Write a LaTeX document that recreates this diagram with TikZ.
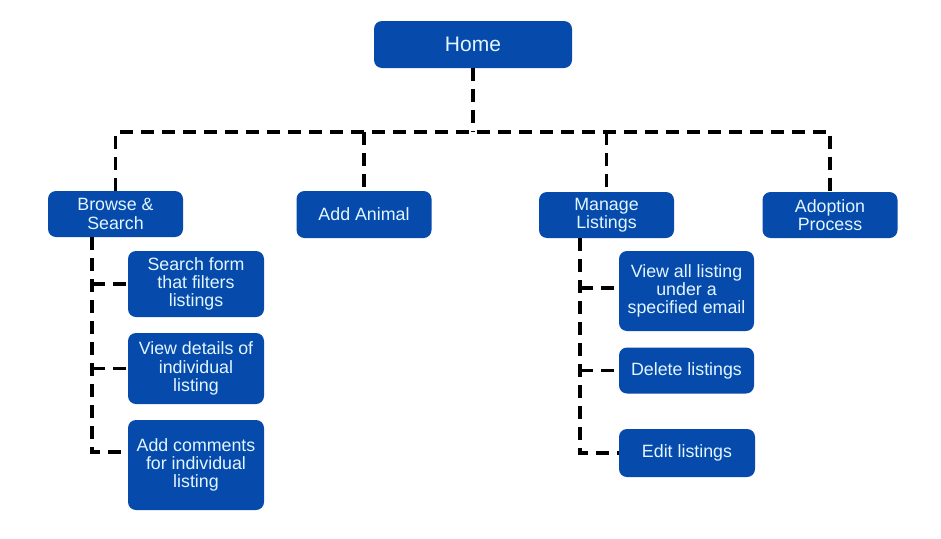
\documentclass[tikz,border=0pt]{standalone}
\usepackage{fontspec}
\setmainfont{Liberation Sans}
\usepackage{xcolor}
\usetikzlibrary{positioning,calc}
\definecolor{boxblue}{RGB}{6,74,172}
\definecolor{boxtext}{RGB}{226,246,255}
\tikzset{
  box/.style={fill=boxblue, rounded corners=8pt, align=center, text=boxtext, inner sep=0pt,
    minimum width=135pt, minimum height=46pt, font=\fontsize{17.8}{18.3}\selectfont},
  link/.style={draw=black, line width=3.6pt, dash pattern=on 13pt off 8pt}}

\begin{document}
\begin{tikzpicture}[x=1pt, y=-1pt]
  \useasboundingbox (0,0) rectangle (941,538);
  % top level
  \node[box, minimum width=198pt, minimum height=47pt, font=\fontsize{21}{23}\selectfont] (home) at (473,44.5) {Home};
  \node[box] (browse) at (115.5,214) {Browse \&\\Search};
  \node[box, minimum height=47pt] (addanimal) at (364,214.5) {Add Animal};
  \node[box] (manage) at (606.5,215) {Manage\\Listings};
  \node[box] (adoption) at (830,215) {Adoption\\Process};
  % browse children
  \node[box, minimum width=136pt, minimum height=66pt] (searchform) at (196,284) {Search form\\that filters\\listings};
  \node[box, minimum width=136pt, minimum height=71pt] (viewdetails) at (196,368.5) {View details of\\individual\\listing};
  \node[box, minimum width=136pt, minimum height=90pt] (addcomments) at (196,465) {Add comments\\for individual\\listing};
  % manage children
  \node[box, minimum height=80pt] (viewall) at (686.5,291) {View all listing\\under a\\specified email};
  \node[box] (deletelist) at (686.5,370.5) {Delete listings};
  \node[box, minimum width=136pt, minimum height=48pt] (editlist) at (687,453) {Edit listings};
  % tree lines
  \coordinate (bus) at (0,132);
  \draw[link] (browse.north) |- (adoption.north |- bus) -- (adoption.north);
  \draw[link] (home.south) -- (home.south |- bus);
  \draw[link] (addanimal.north |- bus) -- (addanimal.north);
  \draw[link] (manage.north |- bus) -- (manage.north);
  \coordinate (railA) at (browse.south -| 92,0);
  \coordinate (railB) at (manage.south -| 580,0);
  \draw[link] (railA) |- (addcomments.west |- 0,452);
  \draw[link] (railA |- searchform.west) -- (searchform.west);
  \draw[link] (railA |- viewdetails.west) -- (viewdetails.west);
  \draw[link] (railB) |- (editlist.west);
  \draw[link] (railB |- 0,288) -- (viewall.west |- 0,288);
  \draw[link] (railB |- deletelist.west) -- (deletelist.west);
\end{tikzpicture}
\end{document}
